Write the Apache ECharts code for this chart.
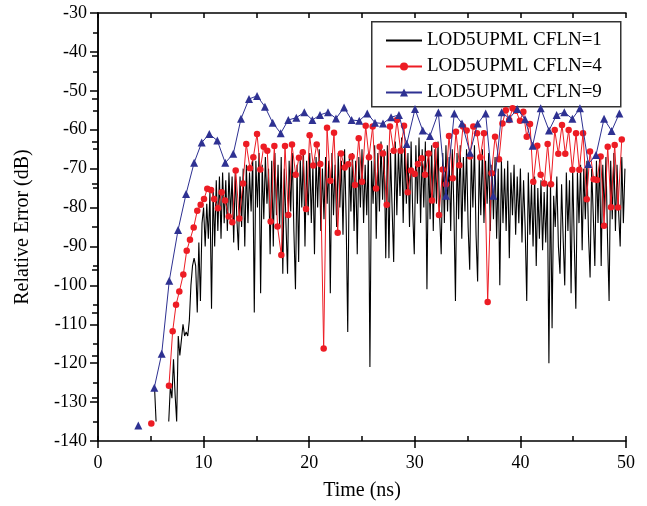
<!DOCTYPE html>
<html><head><meta charset="utf-8">
<script src="https://cdn.jsdelivr.net/npm/echarts@6/dist/echarts.min.js"></script>
<style>html,body{margin:0;padding:0;background:#fff}#c{width:647px;height:506px}</style>
</head><body><div id="c"></div>
<script>
const seriesNames = ['LOD5UPML CFLN=1', 'LOD5UPML CFLN=4', 'LOD5UPML CFLN=9'];
const xTitle = 'Time (ns)';
const yTitle = 'Relative Error (dB)';

// CFLN=9 (blue triangles)
const blueTime = [3.82,4.57,5.33,6.03,6.75,7.58,8.34,9.1,9.82,10.54,11.3,12.05,12.81,13.54,14.3,15.06,15.81,16.54,17.3,18.02,18.78,19.54,20.3,21.02,21.78,22.54,23.3,24.02,24.74,25.5,26.23,26.99,27.75,28.5,29.23,30.02,30.75,31.44,32.23,32.95,33.74,34.47,35.23,35.95,36.71,37.43,38.23,38.95,39.7,40.44,41.16,41.92,42.71,43.43,44.16,44.92,45.64,46.43,47.16,47.92,48.64,49.37];
const blueValue = [-136,null,-126.3,-117.6,-98.8,-85.8,-76.5,-68.5,-63.3,-61.1,-62.8,-68.5,-66.2,-57.2,-52.1,-51.3,-54.1,-58.2,-60.9,-57.5,-56.9,-55.5,-57.5,-56.2,-55.5,-57.1,-54.3,-57.5,-57.7,-55.8,-58.2,-58.4,-56.8,-56.2,-63.7,-54.7,-60.2,-61.6,-55.6,-77.0,-55.8,-58.4,-65.9,-58.4,-55.8,-77.0,-55.5,-57.1,-54.7,-57.3,-64.1,-54.5,-60.2,-56.2,-55.5,-57.2,-54.5,-68.8,-66.5,-57.2,-60.3,-55.8];

// CFLN=4 (red circles)
const redTime = [5.05,5.4,6.72,7.07,7.39,7.7,8.08,8.4,8.71,9.06,9.4,9.72,10.04,10.35,10.7,11.0,11.36,11.71,12.03,12.38,12.72,13.04,13.38,13.73,14.04,14.39,14.71,15.06,15.37,15.69,16.03,16.35,16.7,17.0,17.36,17.71,18.02,18.37,18.72,19.03,19.39,19.7,20.04,20.38,20.71,21.05,21.37,21.69,22.0,22.35,22.7,23.01,23.36,23.7,24.02,24.34,24.69,25.0,25.35,25.66,26.01,26.33,26.67,26.99,27.34,27.65,28.0,28.31,28.66,28.98,29.33,29.64,29.99,30.3,30.65,30.97,31.31,31.63,31.98,32.29,32.64,32.95,33.24,33.59,33.9,34.22,34.56,34.91,35.23,35.54,35.89,36.2,36.55,36.9,37.27,37.6,37.97,38.3,38.62,38.94,39.26,39.58,39.96,40.28,40.6,40.91,41.22,41.6,41.92,42.26,42.58,42.9,43.25,43.59,43.94,44.25,44.57,44.92,45.27,45.58,45.93,46.28,46.59,46.94,47.25,47.6,47.92,48.27,48.58,48.93,49.24,49.6];
const redValue = [-135.5,null,-125.8,-111.8,-105.0,-101.6,-97.2,-91.1,-88.3,-85.1,-80.8,-79.3,-77.8,-75.2,-75.5,-77.8,-80.2,-76.1,-78.2,-82.3,-83.8,-70.5,-82.8,-73.8,-63.7,-69.9,-67.1,-61.1,-70.2,-64.4,-65.4,-83.6,-64.2,-84.9,-92.2,-64.2,-81.9,-63.8,-71.6,-67.2,-65.8,-80.4,-61.4,-69.2,-63.8,-68.8,-116.2,-59.5,-73.1,-60.8,-86.5,-66.1,-69.7,-68.9,-66.9,-74.2,-62.2,-73.4,-59.0,-67.1,-59.2,-75.1,-64.4,-66.1,-79.3,-59.2,-65.4,-57.5,-65.4,-59.0,-76.1,-70.5,-71.4,-68.8,-67.3,-71.6,-66.1,-78.2,-63.9,-81.9,-70.2,-74.0,-61.6,-72.5,-60.5,-69.1,-59.2,-60.2,-66.9,-59.2,-60.9,-67.1,-60.9,-104.3,-71.2,-61.8,-67.6,-58.4,-55.0,-57.5,-54.5,-55.1,-57.7,-55.4,-61.8,-58.5,-73.4,-64.1,-71.6,-73.8,-63.7,-74.0,-60.1,-66.2,-58.8,-66.2,-60.1,-70.3,-60.9,-70.3,-60.9,-77.9,-65.6,-72.7,-72.9,-66.9,-84.7,-64.4,-79.9,-63.9,-80.0,-62.5];

// CFLN=1 (black line), uniformly sampled from blackStart with blackStep
const blackStart = 5.35, blackStep = 0.15;
const blackValue = [
-126,-135,null,null,null,null,null,null,null,-135,
-126,-129,-119,-128,-135,-113,-118,-114,-110,-113,
-112,-113,-109,-100,-95,-93,-95,-107,-89,-104,
-84,-80,-90,-79,-88,-76,-106,-75,-90,-73,
-86,-72,-88,-71,-84,-73,-86,-71,-82,-72,
-89,-71,-83,-91,-72,-85,-70,-90,-69,-84,
-71,-81,-67,-107,-68,-80,-66,-102,-69,-83,
-67,-79,-70,-92,-68,-90,-66,-82,-69,-85,
-67,-97,-70,-84,-97,-68,-81,-66,-86,-101,
-69,-94,-67,-80,-65,-90,-68,-82,-66,-84,
-69,-92,-67,-80,-65,-86,-70,-83,-67,-79,
-68,-102,-66,-82,-69,-85,-66,-80,-68,-87,
-65,-83,-112,-67,-81,-66,-86,-68,-92,-67,
-80,-65,-84,-69,-82,-66,-121,-68,-79,-64,
-88,-66,-81,-63,-78,-65,-93,-64,-93,-66,
-80,-94,-63,-82,-65,-77,-62,-84,-64,-79,
-66,-85,-63,-81,-92,-64,-79,-62,-84,-65,
-80,-63,-101,-66,-83,-64,-86,-65,-79,-63,
-82,-92,-66,-84,-64,-81,-67,-86,-65,-80,
-104,-66,-83,-64,-88,-67,-81,-65,-85,-96,
-66,-80,-64,-87,-99,-67,-82,-65,-84,-68,
-79,-66,-86,-69,-83,-67,-88,-70,-100,-68,
-84,-70,-86,-68,-93,-71,-82,-69,-87,-72,
-84,-70,-89,-73,-85,-104,-71,-87,-74,-90,
-72,-95,-75,-88,-73,-91,-76,-89,-74,-120,
-73,-111,-77,-85,-72,-90,-97,-74,-88,-100,
-71,-86,-73,-102,-70,-89,-106,-71,-84,-69,
-91,-70,-83,-68,-87,-98,-70,-82,-95,-68,
-84,-67,-95,-69,-82,-67,-88,-104,-68,-83,
-66,-86,-69,-81,-90,-67,-84,-70
];

const pair = (t, v) => [t, v === null ? '-' : v];
const blueData = blueTime.map((t, i) => pair(t, blueValue[i]));
const redData = redTime.map((t, i) => pair(t, redValue[i]));
const blackData = blackValue.map((v, i) => pair(+(blackStart + i * blackStep).toFixed(3), v));

const FONT = 'Liberation Serif';
const chart = echarts.init(document.getElementById('c'), null, {renderer: 'canvas'});
chart.setOption({
  animation: false,
  backgroundColor: '#fff',
  grid: {left: 98, right: 21, top: 13, bottom: 65, containLabel: false},
  xAxis: [
    {type: 'value', position: 'bottom', min: 0, max: 50, interval: 10,
     name: xTitle, nameLocation: 'middle', nameGap: 40,
     nameTextStyle: {fontFamily: FONT, fontSize: 20, color: '#000'},
     axisLine: {show: true, lineStyle: {color: '#000', width: 1.5}},
     axisTick: {show: true, inside: false, length: 7, lineStyle: {color: '#000', width: 1.5}},
     axisLabel: {fontFamily: FONT, fontSize: 18, color: '#000', margin: 13},
     splitLine: {show: false}},
    {type: 'value', position: 'bottom', min: 0, max: 50, interval: 5,
     axisLine: {show: false},
     axisTick: {show: true, inside: true, length: 5, lineStyle: {color: '#000', width: 1.5}},
     axisLabel: {show: false}, splitLine: {show: false}},
    {type: 'value', position: 'top', min: 0, max: 50, interval: 5,
     axisLine: {show: true, lineStyle: {color: '#000', width: 1.5}},
     axisTick: {show: true, inside: true, length: 5, lineStyle: {color: '#000', width: 1.5}},
     axisLabel: {show: false}, splitLine: {show: false}}
  ],
  yAxis: [
    {type: 'value', position: 'left', min: -140, max: -30, interval: 10,
     name: yTitle, nameLocation: 'middle', nameGap: 65, nameRotate: 90,
     nameTextStyle: {fontFamily: FONT, fontSize: 20, color: '#000'},
     axisLine: {show: true, lineStyle: {color: '#000', width: 1.5}},
     axisTick: {show: true, inside: false, length: 8, lineStyle: {color: '#000', width: 1.5}},
     minorTick: {show: true, splitNumber: 2, length: 5, lineStyle: {color: '#000', width: 1.5}},
     axisLabel: {fontFamily: FONT, fontSize: 18, color: '#000', margin: 11},
     splitLine: {show: false}, minorSplitLine: {show: false}},
    {type: 'value', position: 'right', min: -140, max: -30, interval: 11,
     axisLine: {show: true, lineStyle: {color: '#000', width: 1.5}},
     axisTick: {show: true, inside: true, length: 6, lineStyle: {color: '#000', width: 1.5}},
     axisLabel: {show: false}, splitLine: {show: false}}
  ],
  graphic: [{type: 'rect', left: 371, top: 21, z: 3,
    shape: {width: 249, height: 85},
    style: {fill: '#fff', stroke: '#333', lineWidth: 1.5}}],
  legend: {
    data: [
      {name: seriesNames[0], itemStyle: {opacity: 0}},
      {name: seriesNames[1]},
      {name: seriesNames[2]}
    ],
    orient: 'vertical', left: 385, top: 31, padding: 0,
    itemWidth: 36, itemHeight: 10, itemGap: 7, z: 5,
    textStyle: {fontFamily: FONT, fontSize: 19, color: '#000', lineHeight: 19}
  },
  series: [
    {name: seriesNames[0], type: 'line', data: blackData, symbol: 'none', showSymbol: false,
     lineStyle: {color: '#000', width: 1.1}, itemStyle: {color: '#000'}, connectNulls: false, z: 2},
    {name: seriesNames[1], type: 'line', data: redData, symbol: 'circle', symbolSize: 6.5,
     lineStyle: {color: '#ED1C24', width: 1}, itemStyle: {color: '#ED1C24'}, connectNulls: false, z: 3},
    {name: seriesNames[2], type: 'line', data: blueData, symbol: 'triangle', symbolSize: 8,
     lineStyle: {color: '#2E3192', width: 1}, itemStyle: {color: '#2E3192'}, connectNulls: false, z: 4}
  ]
});
</script></body></html>
